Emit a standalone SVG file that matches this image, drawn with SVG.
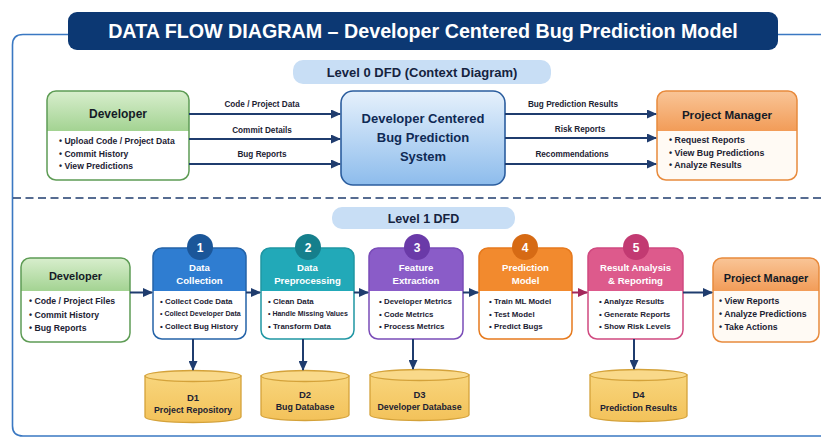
<svg xmlns="http://www.w3.org/2000/svg" width="821" height="437" viewBox="0 0 821 437">
<defs>
<style>
text{font-family:"Liberation Sans",Arial,sans-serif;font-weight:bold;fill:#1c2233}
.ttl{fill:#fff;font-size:19.7px;text-anchor:middle}
.lvl{font-size:13px;text-anchor:middle;fill:#15233f}
.ent{font-size:12px;text-anchor:middle;fill:#151b26}
.b0{font-size:8.6px}
.b1{font-size:8.7px}
.bp{font-size:7.9px}
.lab{font-size:8.2px;text-anchor:middle;fill:#1c2233}
.sys{font-size:13px;text-anchor:middle;fill:#0f2a55}
.ph{font-size:9.6px;text-anchor:middle;fill:#fff}
.num{font-size:12px;text-anchor:middle;fill:#fff}
.dl{font-size:9.5px;text-anchor:middle;fill:#1c2233}
.dn{font-size:8.8px;text-anchor:middle;fill:#1c2233}
.ar{stroke:#1f3c6e;stroke-width:2;fill:none}
.cyl{fill:url(#gCyl);stroke:#d4a23a;stroke-width:1.3}
.cyt{fill:#f9d98a;stroke:#d4a23a;stroke-width:1.3}
</style>
<linearGradient id="gDev" x1="0" y1="0" x2="0" y2="1"><stop offset="0" stop-color="#d8eecd"/><stop offset="1" stop-color="#a3d392"/></linearGradient>
<linearGradient id="gPM" x1="0" y1="0" x2="0" y2="1"><stop offset="0" stop-color="#f9c597"/><stop offset="1" stop-color="#f29c58"/></linearGradient>
<linearGradient id="gSys" x1="0" y1="0" x2="0" y2="1"><stop offset="0" stop-color="#e6f1fc"/><stop offset="1" stop-color="#8dbcec"/></linearGradient>
<linearGradient id="gCyl" x1="0" y1="0" x2="0" y2="1"><stop offset="0" stop-color="#f8d57c"/><stop offset="1" stop-color="#f3c25a"/></linearGradient>
<marker id="ah" markerWidth="10" markerHeight="9" refX="9" refY="4.5" orient="auto" markerUnits="userSpaceOnUse"><path d="M0,0 L10,4.5 L0,9 Z" fill="#1f3c6e"/></marker>
<marker id="ahm" markerWidth="10" markerHeight="9" refX="9" refY="4.5" orient="auto" markerUnits="userSpaceOnUse"><path d="M0,0 L10,4.5 L0,9 Z" fill="#a3285c"/></marker>
</defs>
<rect width="821" height="437" fill="#ffffff"/>
<!-- outer frame -->
<path d="M821,34.5 H23 Q12.5,34.5 12.5,45 V426 Q12.5,436 23,436 H821" fill="none" stroke="#3a78c2" stroke-width="1.6"/>
<!-- title -->
<g id="title">
<rect x="68" y="12" width="710" height="38" rx="9" fill="#0c3873"/>
<text class="ttl" x="423" y="38">DATA FLOW DIAGRAM – Developer Centered Bug Prediction Model</text>
</g>
<g id="level0-label">
<rect x="293" y="60" width="258" height="24" rx="10" fill="#c8def5"/>
<text class="lvl" x="422" y="76.5">Level 0 DFD (Context Diagram)</text>
</g>
<!-- separator -->
<line x1="13" y1="198" x2="821" y2="198" stroke="#1f3c6e" stroke-width="1.6" stroke-dasharray="8 4.5"/>
<g id="level1-label">
<rect x="332" y="207" width="183" height="22" rx="10" fill="#c8def5"/>
<text class="lvl" x="423.5" y="222.5" style="font-size:12.5px">Level 1 DFD</text>
</g>

<!-- Level 0 nodes -->
<g id="l0-developer">
<rect x="47" y="91" width="142" height="89" rx="9" fill="#ffffff"/>
<path d="M47,131 V100 Q47,91 56,91 H180 Q189,91 189,100 V131 Z" fill="url(#gDev)"/>
<rect x="47" y="91" width="142" height="89" rx="9" fill="none" stroke="#5e9c55" stroke-width="1.5"/>
<text class="ent" x="118" y="118">Developer</text>
<text class="b0" x="59" y="144">• Upload Code / Project Data</text>
<text class="b0" x="59" y="156.5">• Commit History</text>
<text class="b0" x="59" y="168.5">• View Predictions</text>
</g>
<g id="l0-system">
<rect x="341" y="91" width="164" height="94" rx="12" fill="url(#gSys)" stroke="#2b5d9e" stroke-width="1.6"/>
<text class="sys" x="423" y="123">Developer Centered</text>
<text class="sys" x="423" y="142">Bug Prediction</text>
<text class="sys" x="423" y="161">System</text>
</g>
<g id="l0-pm">
<rect x="657" y="91" width="140" height="89" rx="9" fill="#fffaf4"/>
<path d="M657,131 V100 Q657,91 666,91 H788 Q797,91 797,100 V131 Z" fill="url(#gPM)"/>
<rect x="657" y="91" width="140" height="89" rx="9" fill="none" stroke="#e88a3c" stroke-width="1.5"/>
<text class="ent" x="727" y="119" style="font-size:11.6px">Project Manager</text>
<text class="b0" x="669" y="142.5" style="font-size:8.8px">• Request Reports</text>
<text class="b0" x="669" y="156" style="font-size:8.8px">• View Bug Predictions</text>
<text class="b0" x="669" y="168" style="font-size:8.8px">• Analyze Results</text>
</g>

<!-- Level 1 nodes -->
<g id="l1-developer">
<rect x="21" y="258" width="109" height="84" rx="9" fill="#ffffff"/>
<path d="M21,291 V267 Q21,258 30,258 H121 Q130,258 130,267 V291 Z" fill="url(#gDev)"/>
<rect x="21" y="258" width="109" height="84" rx="9" fill="none" stroke="#5e9c55" stroke-width="1.5"/>
<text class="ent" x="75.5" y="280" style="font-size:11px">Developer</text>
<text class="b1" x="29" y="304">• Code / Project Files</text>
<text class="b1" x="29" y="317.5">• Commit History</text>
<text class="b1" x="29" y="331">• Bug Reports</text>
</g>
<g id="p1">
<rect x="153" y="248" width="93" height="91" rx="9" fill="#ffffff"/>
<path d="M153,291 V257 Q153,248 162,248 H237 Q246,248 246,257 V291 Z" fill="#2f7dd1"/>
<rect x="153" y="248" width="93" height="91" rx="9" fill="none" stroke="#2463a8" stroke-width="1.5"/>
<circle cx="200" cy="247" r="13" fill="#1b5699"/>
<text class="num" x="200" y="251.5">1</text>
<text class="ph" x="199.5" y="270.5">Data</text>
<text class="ph" x="199.5" y="284">Collection</text>
<text class="bp" x="160" y="304">• Collect Code Data</text>
<text class="bp" x="160" y="316" style="font-size:7px">• Collect Developer Data</text>
<text class="bp" x="160" y="328.5">• Collect Bug History</text>
</g>
<g id="p2">
<rect x="261" y="248" width="93" height="91" rx="9" fill="#ffffff"/>
<path d="M261,291 V257 Q261,248 270,248 H345 Q354,248 354,257 V291 Z" fill="#22a9b8"/>
<rect x="261" y="248" width="93" height="91" rx="9" fill="none" stroke="#1f96a3" stroke-width="1.5"/>
<circle cx="308" cy="247" r="13" fill="#157f8c"/>
<text class="num" x="308" y="251.5">2</text>
<text class="ph" x="307.5" y="270.5">Data</text>
<text class="ph" x="307.5" y="284">Preprocessing</text>
<text class="bp" x="268" y="304">• Clean Data</text>
<text class="bp" x="268" y="316" style="font-size:7px">• Handle Missing Values</text>
<text class="bp" x="268" y="328.5">• Transform Data</text>
</g>
<g id="p3">
<rect x="369" y="248" width="94" height="91" rx="9" fill="#ffffff"/>
<path d="M369,291 V257 Q369,248 378,248 H454 Q463,248 463,257 V291 Z" fill="#8a5cc8"/>
<rect x="369" y="248" width="94" height="91" rx="9" fill="none" stroke="#7a4cb8" stroke-width="1.5"/>
<circle cx="417" cy="247" r="13" fill="#6a3aa8"/>
<text class="num" x="417" y="251.5">3</text>
<text class="ph" x="416" y="270.5">Feature</text>
<text class="ph" x="416" y="284">Extraction</text>
<text class="bp" x="379" y="304">• Developer Metrics</text>
<text class="bp" x="379" y="316.5">• Code Metrics</text>
<text class="bp" x="379" y="329">• Process Metrics</text>
</g>
<g id="p4">
<rect x="479" y="248" width="93" height="91" rx="9" fill="#ffffff"/>
<path d="M479,291 V257 Q479,248 488,248 H563 Q572,248 572,257 V291 Z" fill="#f28a2e"/>
<rect x="479" y="248" width="93" height="91" rx="9" fill="none" stroke="#e67a1e" stroke-width="1.5"/>
<circle cx="525" cy="247" r="13" fill="#d66a14"/>
<text class="num" x="525" y="251.5">4</text>
<text class="ph" x="525.5" y="270.5">Prediction</text>
<text class="ph" x="525.5" y="284">Model</text>
<text class="bp" x="489" y="304">• Train ML Model</text>
<text class="bp" x="489" y="316.5">• Test Model</text>
<text class="bp" x="489" y="329">• Predict Bugs</text>
</g>
<g id="p5">
<rect x="588" y="248" width="95" height="91" rx="9" fill="#ffffff"/>
<path d="M588,291 V257 Q588,248 597,248 H674 Q683,248 683,257 V291 Z" fill="#dd5a8c"/>
<rect x="588" y="248" width="95" height="91" rx="9" fill="none" stroke="#d04a80" stroke-width="1.5"/>
<circle cx="636" cy="247" r="13" fill="#c23a72"/>
<text class="num" x="636" y="251.5">5</text>
<text class="ph" x="635.5" y="270.5">Result Analysis</text>
<text class="ph" x="635.5" y="284">&amp; Reporting</text>
<text class="bp" x="599" y="304">• Analyze Results</text>
<text class="bp" x="599" y="316.5">• Generate Reports</text>
<text class="bp" x="599" y="329">• Show Risk Levels</text>
</g>
<g id="l1-pm">
<rect x="713" y="258" width="106" height="84" rx="9" fill="#fffaf4"/>
<path d="M713,291 V267 Q713,258 722,258 H810 Q819,258 819,267 V291 Z" fill="url(#gPM)"/>
<rect x="713" y="258" width="106" height="84" rx="9" fill="none" stroke="#e88a3c" stroke-width="1.5"/>
<text class="ent" x="766" y="282" style="font-size:10.9px">Project Manager</text>
<text class="b1" x="719" y="303.5">• View Reports</text>
<text class="b1" x="719" y="316.5">• Analyze Predictions</text>
<text class="b1" x="719" y="330">• Take Actions</text>
</g>

<!-- data stores -->
<g id="d1">
<path class="cyl" d="M145,376 V417 A48,5.5 0 0 0 241,417 V376 Z"/>
<ellipse class="cyt" cx="193" cy="376" rx="48" ry="5.5"/>
<text class="dl" x="193" y="401">D1</text>
<text class="dn" x="193" y="413">Project Repository</text>
</g>
<g id="d2">
<path class="cyl" d="M261,376 V415 A44,5.5 0 0 0 349,415 V376 Z"/>
<ellipse class="cyt" cx="305" cy="376" rx="44" ry="5.5"/>
<text class="dl" x="305" y="397.5">D2</text>
<text class="dn" x="305" y="410">Bug Database</text>
</g>
<g id="d3">
<path class="cyl" d="M370,375 V415 A49.5,5.5 0 0 0 469,415 V375 Z"/>
<ellipse class="cyt" cx="419.5" cy="375" rx="49.5" ry="5.5"/>
<text class="dl" x="419.5" y="397.5">D3</text>
<text class="dn" x="419.5" y="410">Developer Database</text>
</g>
<g id="d4">
<path class="cyl" d="M590,375 V416 A48.5,5.5 0 0 0 687,416 V375 Z"/>
<ellipse class="cyt" cx="638.5" cy="375" rx="48.5" ry="5.5"/>
<text class="dl" x="638.5" y="398">D4</text>
<text class="dn" x="638.5" y="411">Prediction Results</text>
</g>

<!-- connectors -->
<g id="connectors">
<line class="ar" x1="189" y1="114" x2="340" y2="114" marker-end="url(#ah)"/>
<line class="ar" x1="189" y1="139" x2="340" y2="139" marker-end="url(#ah)"/>
<line class="ar" x1="189" y1="164" x2="340" y2="164" marker-end="url(#ah)"/>
<line class="ar" x1="505" y1="114" x2="656" y2="114" marker-end="url(#ah)"/>
<line class="ar" x1="505" y1="138" x2="656" y2="138" marker-end="url(#ah)"/>
<line class="ar" x1="505" y1="164" x2="656" y2="164" marker-end="url(#ah)"/>
<text class="lab" x="262" y="107">Code / Project Data</text>
<text class="lab" x="262" y="133">Commit Details</text>
<text class="lab" x="262" y="157">Bug Reports</text>
<text class="lab" x="573" y="107">Bug Prediction Results</text>
<text class="lab" x="580" y="132">Risk Reports</text>
<text class="lab" x="572" y="157">Recommendations</text>
<line class="ar" x1="130" y1="292.5" x2="152" y2="292.5" marker-end="url(#ah)"/>
<line class="ar" x1="246" y1="292.5" x2="260" y2="292.5" marker-end="url(#ah)"/>
<line class="ar" x1="354" y1="292.5" x2="368" y2="292.5" marker-end="url(#ah)"/>
<line class="ar" x1="463" y1="292.5" x2="478" y2="292.5" marker-end="url(#ah)"/>
<line class="ar" x1="572" y1="292.5" x2="587" y2="292.5" marker-end="url(#ahm)" style="stroke:#a3285c"/>
<line class="ar" x1="683" y1="292.5" x2="712" y2="292.5" marker-end="url(#ah)"/>
<line class="ar" x1="193" y1="339" x2="193" y2="370" marker-end="url(#ah)"/>
<line class="ar" x1="303" y1="339" x2="303" y2="370" marker-end="url(#ah)"/>
<line class="ar" x1="413" y1="339" x2="413" y2="369" marker-end="url(#ah)"/>
<line class="ar" x1="634" y1="339" x2="634" y2="369" marker-end="url(#ah)"/>
</g>
</svg>
